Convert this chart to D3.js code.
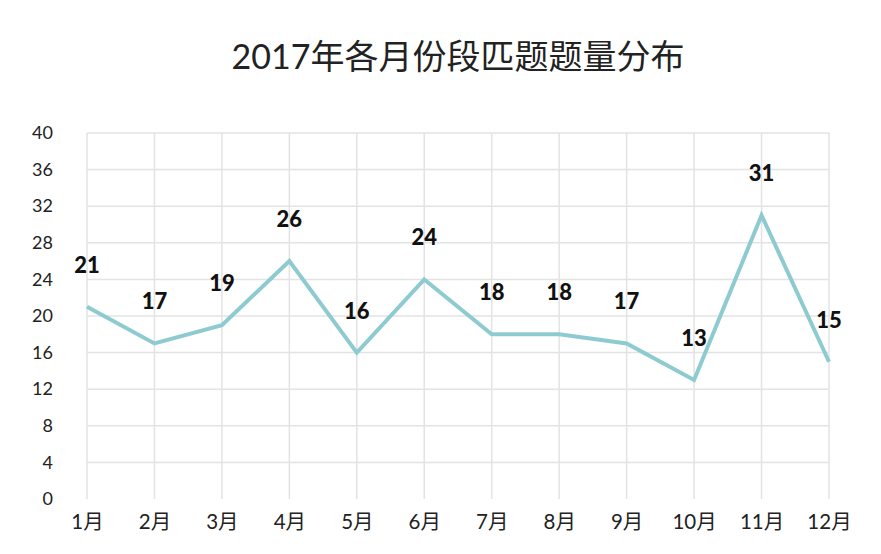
<!DOCTYPE html>
<html><head><meta charset="utf-8">
<script src="https://cdn.jsdelivr.net/npm/d3@7"></script>
<style>
body{margin:0;background:#fff;}
text{font-family:Lato,"Noto Sans CJK SC",sans-serif;}
</style></head>
<body>
<svg id="c" width="881" height="554"></svg>
<script>
const title = "2017年各月份段匹题题量分布";
const months = ["1月","2月","3月","4月","5月","6月","7月","8月","9月","10月","11月","12月"];
const values = [21,17,19,26,16,24,18,18,17,13,31,15];
const yTicks = [0,4,8,12,16,20,24,28,32,36,40];

const svg = d3.select("#c");
const x = d3.scalePoint().domain(months).range([87,829]);
const y = d3.scaleLinear().domain([0,40]).range([499,133]);

// grid
svg.append("g").selectAll("line").data(yTicks.filter(d=>d>0)).join("line")
  .attr("x1",87).attr("x2",829).attr("y1",d=>y(d)).attr("y2",d=>y(d))
  .attr("stroke","#e3e3e3").attr("stroke-width",1.5);
svg.append("g").selectAll("line").data(months).join("line")
  .attr("x1",d=>x(d)).attr("x2",d=>x(d)).attr("y1",y(40)).attr("y2",y(0))
  .attr("stroke","#e3e3e3").attr("stroke-width",1.5);

// y axis
const ya = svg.append("g").attr("transform","translate(61,0)")
  .call(d3.axisLeft(y).tickValues(yTicks).tickSize(0).tickPadding(8));
ya.select(".domain").remove();
ya.selectAll("text").attr("font-size",18).attr("fill","#222").style("font-family","Lato,'Noto Sans CJK SC',sans-serif");

// x axis
const xa = svg.append("g").attr("transform","translate(0,511)")
  .call(d3.axisBottom(x).tickSize(0).tickPadding(3));
xa.select(".domain").remove();
xa.selectAll("text").attr("font-size",20.5).attr("fill","#222").style("font-family","Lato,'Noto Sans CJK SC',sans-serif");

// line
svg.append("path").datum(values)
  .attr("d", d3.line().x((d,i)=>x(months[i])).y(d=>y(d)))
  .attr("fill","none").attr("stroke","#8ecbd1").attr("stroke-width",4)
  .attr("stroke-linejoin","miter");

// labels
svg.append("g").selectAll("text").data(values).join("text")
  .attr("x",(d,i)=>x(months[i])).attr("y",d=>y(d)-34)
  .attr("text-anchor","middle").attr("font-size",22).attr("font-weight",900)
  .attr("fill","#111").text(d=>d);

// title
svg.append("text").attr("x",458).attr("y",69).attr("text-anchor","middle")
  .attr("font-size",34).attr("fill","#222").text(title);
</script>
</body></html>
